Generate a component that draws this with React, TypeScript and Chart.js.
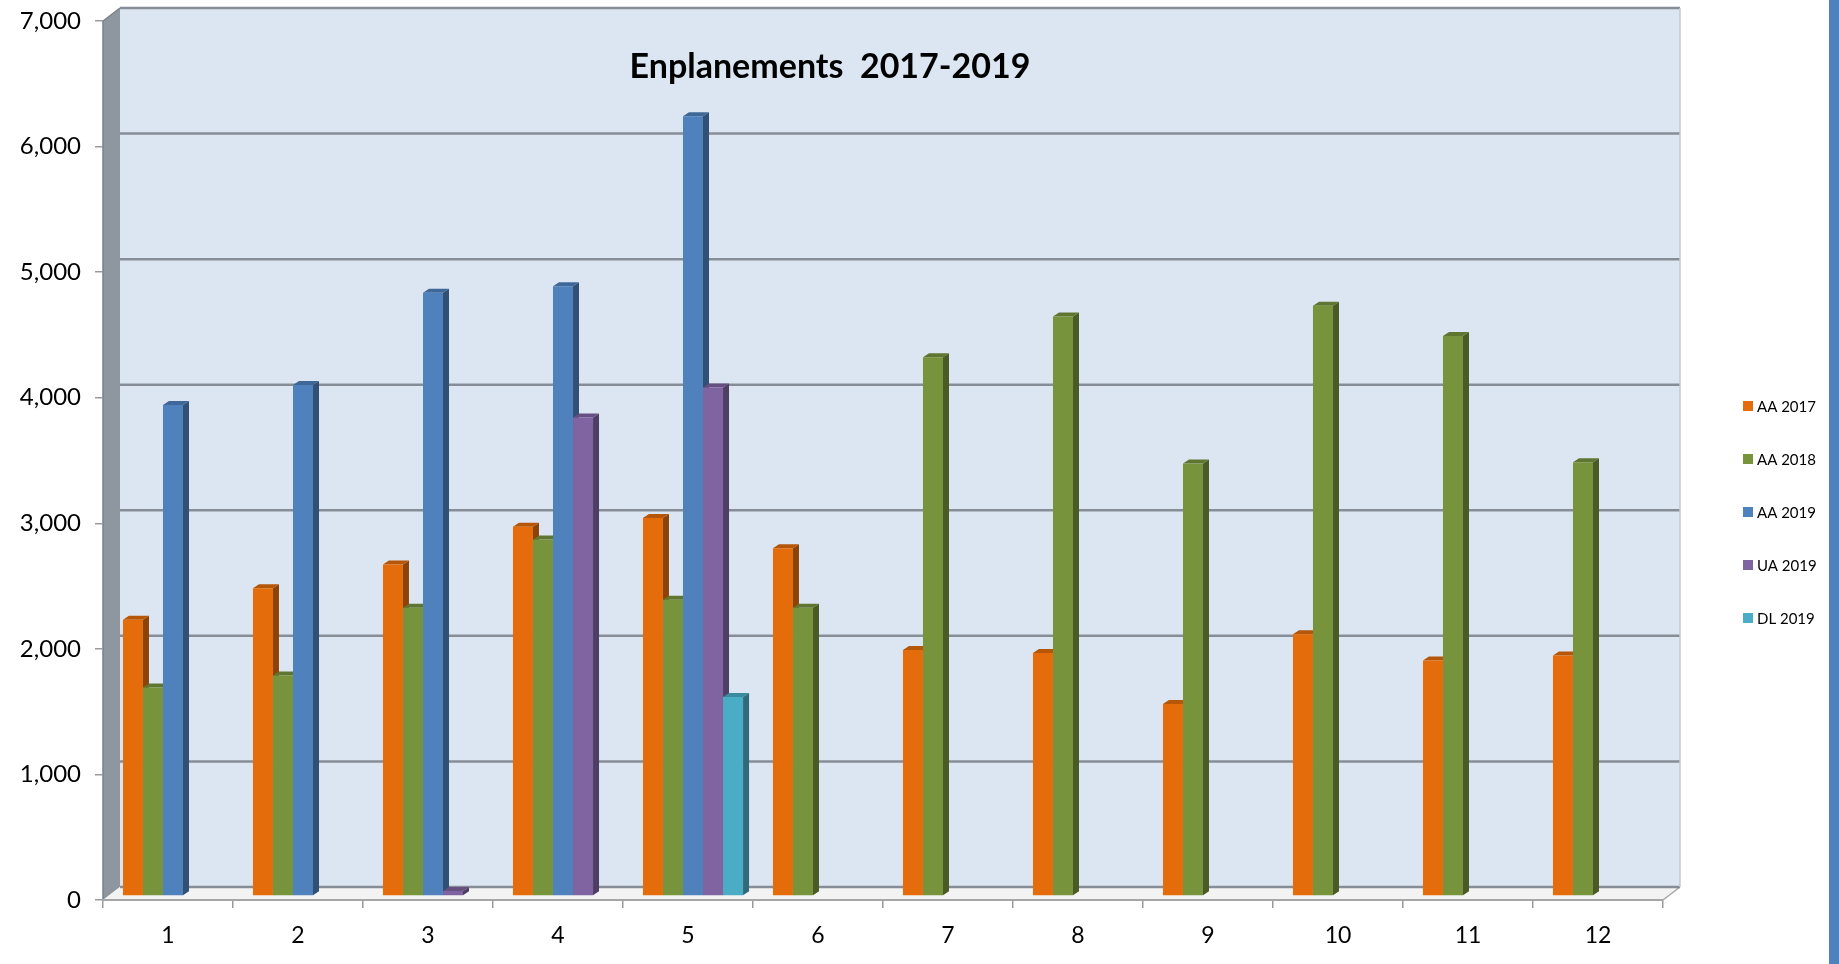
import { useEffect, useRef } from 'react';
import { Chart, registerables } from 'chart.js';

Chart.register(...registerables);

// ---------- data ----------
const categories = ['1', '2', '3', '4', '5', '6', '7', '8', '9', '10', '11', '12'];
const seriesNames = ['AA 2017', 'AA 2018', 'AA 2019', 'UA 2019', 'DL 2019'];
const aa2017 = [2200, 2450, 2640, 2940, 3010, 2770, 1960, 1935, 1530, 2085, 1875, 1915];
const aa2018 = [1660, 1755, 2295, 2840, 2360, 2295, 4290, 4615, 3445, 4700, 4460, 3455];
const aa2019 = [3910, 4070, 4805, 4855, 6210, null, null, null, null, null, null, null];
const ua2019 = [null, null, 40, 3810, 4050, null, null, null, null, null, null, null];
const dl2019 = [null, null, null, null, 1585, null, null, null, null, null, null, null];
const yTickStep = 1000;
const yMax = 7000;
const titleText = 'Enplanements  2017-2019';

// ---------- styles ----------
const COLORS = ['#E46C0A', '#77933C', '#4F81BD', '#8064A2', '#4BACC6'];
const WALL_DX = 17;
const WALL_DY = 13;
const BAR_SHIFT_X = 5;
const BAR_SHIFT_Y = -4;
const BAR_DX = 6;
const BAR_DY = 4;
const FONT = 'Lato';

function shade(hex: string, f: number): string {
  const n = parseInt(hex.slice(1), 16);
  const r = Math.round(((n >> 16) & 255) * f);
  const g = Math.round(((n >> 8) & 255) * f);
  const b = Math.round((n & 255) * f);
  return `rgb(${r},${g},${b})`;
}

const wallPlugin = {
  id: 'wall3d',
  beforeDraw(chart: any) {
    const { ctx, chartArea: a, scales } = chart;
    const y = scales.y;
    ctx.save();
    // back wall
    ctx.fillStyle = '#DCE6F2';
    ctx.fillRect(a.left + WALL_DX, a.top - WALL_DY, a.right - a.left, a.bottom - a.top);
    // side wall
    ctx.fillStyle = '#8E969F';
    ctx.beginPath();
    ctx.moveTo(a.left, a.bottom);
    ctx.lineTo(a.left, a.top);
    ctx.lineTo(a.left + WALL_DX, a.top - WALL_DY);
    ctx.lineTo(a.left + WALL_DX, a.bottom - WALL_DY);
    ctx.closePath();
    ctx.fill();
    ctx.strokeStyle = '#7A8189';
    ctx.lineWidth = 1.5;
    ctx.beginPath();
    ctx.moveTo(a.left, a.bottom);
    ctx.lineTo(a.left, a.top);
    ctx.lineTo(a.left + WALL_DX, a.top - WALL_DY);
    ctx.stroke();
    // floor
    ctx.fillStyle = '#F3F3F3';
    ctx.beginPath();
    ctx.moveTo(a.left, a.bottom);
    ctx.lineTo(a.right, a.bottom);
    ctx.lineTo(a.right + WALL_DX, a.bottom - WALL_DY);
    ctx.lineTo(a.left + WALL_DX, a.bottom - WALL_DY);
    ctx.closePath();
    ctx.fill();
    ctx.strokeStyle = '#A6A6A6';
    ctx.lineWidth = 1.5;
    ctx.beginPath();
    ctx.moveTo(a.right, a.bottom);
    ctx.lineTo(a.right + WALL_DX, a.bottom - WALL_DY);
    ctx.stroke();
    // gridlines on back wall
    ctx.strokeStyle = '#878D96';
    ctx.lineWidth = 2.5;
    y.ticks.forEach((t: any) => {
      const py = y.getPixelForValue(t.value) - WALL_DY;
      ctx.beginPath();
      ctx.moveTo(a.left + WALL_DX, py);
      ctx.lineTo(a.right + WALL_DX, py);
      ctx.stroke();
    });
    // right edge of back wall
    ctx.strokeStyle = '#C3C9D0';
    ctx.lineWidth = 1.5;
    ctx.beginPath();
    ctx.moveTo(a.right + WALL_DX, a.top - WALL_DY);
    ctx.lineTo(a.right + WALL_DX, a.bottom - WALL_DY);
    ctx.stroke();
    ctx.restore();
  },
};

const bars3dPlugin = {
  id: 'bars3d',
  beforeDatasetsDraw(chart: any) {
    const ctx = chart.ctx;
    ctx.save();
    ctx.translate(BAR_SHIFT_X, BAR_SHIFT_Y);
    chart.data.datasets.forEach((ds: any, di: number) => {
      const meta = chart.getDatasetMeta(di);
      if (meta.hidden) return;
      meta.data.forEach((el: any, i: number) => {
        if (ds.data[i] == null) return;
        const { x, y, base, width } = el;
        const l = x - width / 2;
        const r = x + width / 2;
        const color = ds.backgroundColor as string;
        ctx.fillStyle = shade(color, 0.62);
        ctx.beginPath();
        ctx.moveTo(r, y);
        ctx.lineTo(r + BAR_DX, y - BAR_DY);
        ctx.lineTo(r + BAR_DX, base - BAR_DY);
        ctx.lineTo(r, base);
        ctx.closePath();
        ctx.fill();
        ctx.fillStyle = shade(color, 0.8);
        ctx.beginPath();
        ctx.moveTo(l, y);
        ctx.lineTo(l + BAR_DX, y - BAR_DY);
        ctx.lineTo(r + BAR_DX, y - BAR_DY);
        ctx.lineTo(r, y);
        ctx.closePath();
        ctx.fill();
      });
    });
  },
  afterDatasetsDraw(chart: any) {
    chart.ctx.restore();
  },
};

const overlayPlugin = {
  id: 'overlay',
  afterDraw(chart: any) {
    const ctx = chart.ctx;
    const a = chart.chartArea;
    ctx.save();
    // title
    ctx.fillStyle = '#000';
    ctx.font = `bold 34px ${FONT}`;
    ctx.textAlign = 'center';
    ctx.textBaseline = 'middle';
    ctx.fillText(titleText, a.left + (a.right - a.left) * 0.466, a.top + 46);
    // legend
    ctx.font = `15px ${FONT}`;
    ctx.textAlign = 'left';
    const lx = a.right + 80;
    const ly0 = 406;
    const step = 53;
    chart.data.datasets.forEach((ds: any, i: number) => {
      const cy = ly0 + i * step;
      ctx.fillStyle = ds.backgroundColor;
      ctx.fillRect(lx, cy - 5, 10, 10);
      ctx.fillStyle = '#000';
      ctx.fillText(ds.label, lx + 14, cy + 1);
    });
    ctx.restore();
  },
};

export default function App() {
  const ref = useRef<HTMLCanvasElement>(null);
  useEffect(() => {
    const seriesData = [aa2017, aa2018, aa2019, ua2019, dl2019];
    const chart = new Chart(ref.current as HTMLCanvasElement, {
      type: 'bar',
      data: {
        labels: categories,
        datasets: seriesNames.map((name, i) => ({
          label: name,
          data: seriesData[i],
          backgroundColor: COLORS[i],
          borderWidth: 0,
          categoryPercentage: 0.77,
          barPercentage: 1.0,
          clip: false as any,
        })),
      },
      options: {
        responsive: false,
        animation: false,
        devicePixelRatio: 1,
        layout: { padding: { left: 0, top: 21, right: 176, bottom: 0 } },
        plugins: {
          legend: { display: false },
          title: { display: false },
          tooltip: { enabled: false },
        },
        scales: {
          x: {
            grid: {
              drawOnChartArea: false,
              drawTicks: true,
              tickLength: 8,
              color: '#9A9A9A',
              lineWidth: 1.5,
              offset: true,
            },
            border: { display: true, color: '#A6A6A6', width: 2 },
            ticks: {
              color: '#000',
              font: { family: FONT, size: 23 },
              padding: 14,
              maxRotation: 0,
            },
            afterFit(scale: any) {
              scale.height = 64;
              scale.paddingLeft = 0;
              scale.paddingRight = 0;
            },
          },
          y: {
            min: 0,
            max: yMax,
            grid: {
              drawOnChartArea: false,
              drawTicks: true,
              tickLength: 8,
              color: '#9A9A9A',
              lineWidth: 1.5,
            },
            border: { display: false },
            ticks: {
              stepSize: yTickStep,
              color: '#000',
              font: { family: FONT, size: 24 },
              padding: 14,
              callback: (v: any) => Number(v).toLocaleString('en-US'),
            },
            afterFit(scale: any) {
              scale.width = 103;
              scale.paddingTop = 0;
              scale.paddingBottom = 0;
            },
          },
        },
      },
      plugins: [wallPlugin, bars3dPlugin, overlayPlugin],
    });
    return () => chart.destroy();
  }, []);

  return (
    <div
      style={{
        position: 'fixed',
        left: 0,
        top: 0,
        width: 1839,
        height: 964,
        background: '#fff',
        overflow: 'hidden',
      }}
    >
      <canvas ref={ref} width={1839} height={964} style={{ display: 'block' }} />
      <div
        style={{
          position: 'absolute',
          left: 1829,
          top: 0,
          width: 10,
          height: 964,
          background: '#4F81BD',
        }}
      />
    </div>
  );
}
